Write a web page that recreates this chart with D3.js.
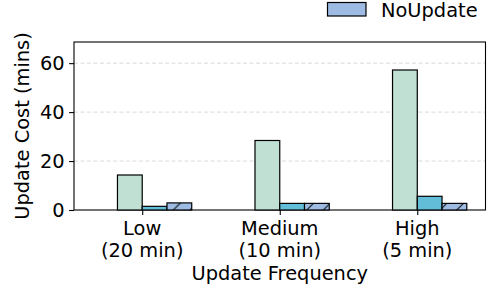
<!DOCTYPE html>
<html><head><meta charset="utf-8">
<script src="https://cdn.jsdelivr.net/npm/d3@7"></script>
<style>body{margin:0;background:#fff}svg{display:block;font-family:"DejaVu Sans",sans-serif}</style>
</head><body><svg id="c" width="500" height="300"></svg>
<script>
const categories = ["Low\n(20 min)", "Medium\n(10 min)", "High\n(5 min)"];
const seriesNames = ["Baseline", "FullUpdate", "Incremental", "NoUpdate"];
const baseline = [0, 0, 0];
const fullUpdate = [14.3, 28.4, 57.2];
const incremental = [1.5, 2.7, 5.6];
const noUpdate = [2.9, 2.7, 2.7];
const yTicks = [0, 20, 40, 60];
const legendNames = ["NoUpdate"];

const series = [baseline, fullUpdate, incremental, noUpdate];
const fills = ["#ffffff", "#bfe0d2", "#62bed8", "#9ebce3"];
const strokes = ["#c0c0c0", "#000", "#000", "#000"];
const hatched = [false, false, false, true];
const FS = 19.4;

const svg = d3.select("#c");
const L = 74, R = 485.5, T = 42, B = 210;
const barW = 0.18;
const x = d3.scaleLinear().domain([-2*barW - 0.136, 2 + 2*barW + 0.136]).range([L, R]);
const ymax = d3.max(fullUpdate) * 1.2;
const y = d3.scaleLinear().domain([0, ymax]).range([B, T]);

const defs = svg.append("defs");
const pat = defs.append("pattern").attr("id","hatch").attr("patternUnits","userSpaceOnUse")
  .attr("width",16.67).attr("height",16.67).attr("patternTransform","translate(0,300)");
pat.append("rect").attr("width",16.67).attr("height",16.67).attr("fill",fills[3]);
pat.append("path").attr("d","M-4.17,4.17 L4.17,-4.17 M0,16.67 L16.67,0 M12.5,20.84 L20.84,12.5")
  .attr("stroke","#000").attr("stroke-width",1);

// grid
svg.append("g").selectAll("line").data(yTicks.filter(d=>d>0)).join("line")
  .attr("x1",L).attr("x2",R).attr("y1",d=>y(d)).attr("y2",d=>y(d))
  .attr("stroke","#d0d0d0").attr("stroke-width",0.8).attr("stroke-dasharray","4,2.5");

svg.append("rect").attr("x",L).attr("y",T).attr("width",R-L).attr("height",B-T)
  .attr("fill","none").attr("stroke","#000").attr("stroke-width",1.1);

// bars
series.forEach((vals, s) => {
  const off = (s - 1.5) * barW;
  const g = svg.append("g");
  g.selectAll("rect").data(vals).join("rect")
    .attr("x", (d,i) => x(i + off - barW/2))
    .attr("width", (d,i) => x(i + off + barW/2) - x(i + off - barW/2))
    .attr("y", d => y(d))
    .attr("height", d => y(0) - y(d))
    .attr("fill", hatched[s] ? "url(#hatch)" : fills[s])
    .attr("stroke", strokes[s]).attr("stroke-width", 1.2);
});

// axes
const xa = svg.append("g").attr("transform",`translate(0,${B})`)
  .call(d3.axisBottom(x).tickValues([0,1,2]).tickSize(4.9).tickFormat(""));
xa.select(".domain").remove();
xa.selectAll("line").attr("stroke","#000").attr("stroke-width",1.1);
const xl = svg.append("g");
categories.forEach((c,i) => {
  const t = xl.append("text").attr("x", x(i)).attr("text-anchor","middle")
    .attr("font-size",FS).attr("fill","#000");
  c.split("\n").forEach((line,k) => t.append("tspan").attr("x", x(i)).attr("y", 235 + k*22).text(line));
});
const ya = svg.append("g").attr("transform",`translate(${L},0)`)
  .call(d3.axisLeft(y).tickValues(yTicks).tickSize(4.9).tickPadding(4.5));
ya.select(".domain").remove();
ya.selectAll("line").attr("stroke","#000").attr("stroke-width",1.1);
ya.selectAll("text").attr("font-size",FS).attr("fill","#000").attr("font-family","DejaVu Sans");

svg.append("text").attr("x",(L+R)/2).attr("y",280).attr("text-anchor","middle")
  .attr("font-size",FS).text("Update Frequency");
svg.append("text").attr("transform",`translate(29,${(T+B)/2}) rotate(-90)`).attr("text-anchor","middle")
  .attr("font-size",FS).text("Update Cost (mins)");

// legend
const lg = svg.append("g");
legendNames.forEach((n,i) => {
  lg.append("rect").attr("x",327.5).attr("y",2.5 - i*22).attr("width",38.5).attr("height",13.5)
    .attr("fill",fills[3]).attr("stroke","#000").attr("stroke-width",1.2);
  lg.append("text").attr("x",381).attr("y",16.5 - i*22).attr("font-size",FS).text(n);
});
</script></body></html>
